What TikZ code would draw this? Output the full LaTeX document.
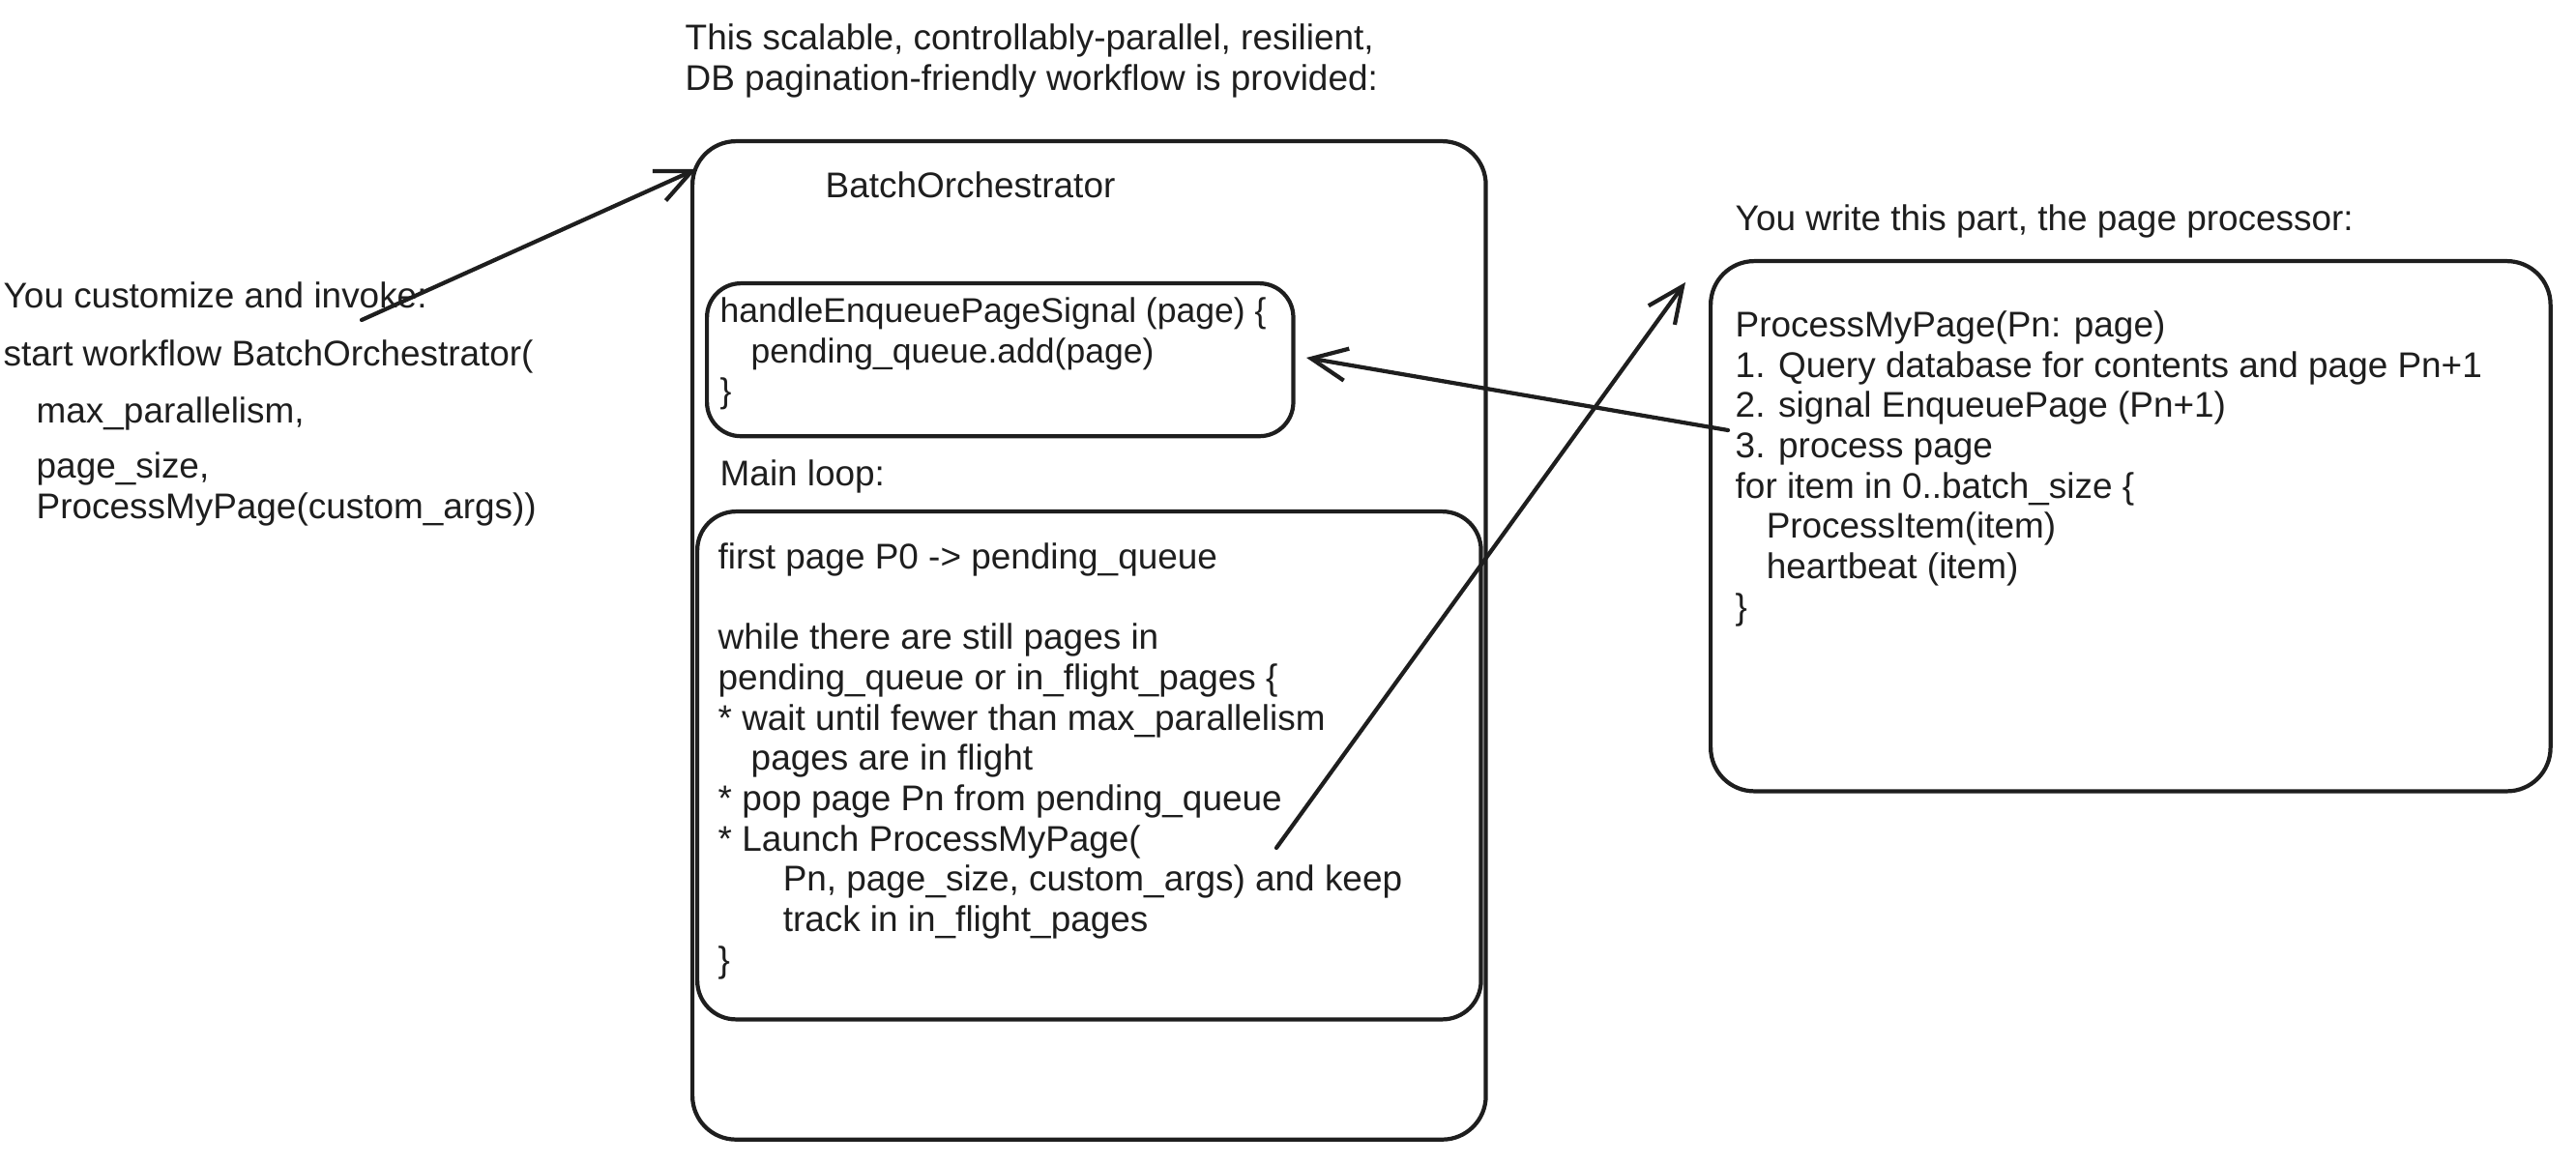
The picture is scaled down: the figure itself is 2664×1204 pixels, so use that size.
\documentclass[tikz,border=0pt]{standalone}
\usepackage{fontspec}
\setmainfont{Liberation Sans}
\usetikzlibrary{arrows.meta}
\definecolor{ink}{HTML}{1E1E1E}
\newcommand{\firstln}{\rule{0pt}{9pt}}
\begin{document}
\begin{tikzpicture}[x=0.01cm,y=-0.01cm,
  box/.style={draw=ink, line width=1.2pt, rectangle, inner sep=0pt, anchor=north west},
  txt/.style={anchor=base west, inner sep=0pt, align=left, text=ink,
    font=\fontsize{10.5}{11.84}\selectfont},
  mtxt/.style={txt, anchor=north west, yshift=9pt},
  arr/.style={draw=ink, line width=1.2pt, line cap=round,
    -{Straight Barb[length=10.5pt,width=9.5pt,line width=1.2pt]}}]
\useasboundingbox[fill=white] (0,0) rectangle (2664,1204);

% boxes
\node[box, rounded corners=0.45cm, minimum width=8.2cm, minimum height=10.32cm] (outer) at (714,144) {};
\node[box, rounded corners=0.35cm, minimum width=6.06cm, minimum height=1.58cm] (handlerbox) at (729,291) {};
\node[box, rounded corners=0.4cm, minimum width=8.1cm, minimum height=5.25cm] (loopbox) at (719,527) {};
\node[box, rounded corners=0.45cm, minimum width=8.68cm, minimum height=5.48cm] (procbox) at (1767,268) {};

% texts
\begin{scope}[yshift=-0.05cm]
\node[mtxt] (title) at (708,46) {\firstln This scalable, controllably-parallel, resilient,\\DB pagination-friendly workflow is provided:};
\node[txt] (orch) at (853,200) {BatchOrchestrator};
\node[txt] (writehdr) at (1794,234) {You write this part, the page processor:};
\node[txt] (invoke) at (3,314) {You customize and invoke:};
\node[txt] (start) at (3,374) {start workflow BatchOrchestrator(};
\node[txt] (maxp) at (37,433) {max\_parallelism,};
\node[mtxt] (psize) at (37,489) {\firstln page\_size,\\ProcessMyPage(custom\_args))};

\node[mtxt, font=\fontsize{10.1}{11.84}\selectfont] (handler) at (744,328) {\firstln handleEnqueuePageSignal (page) \{\\
\hspace*{3.2mm}pending\_queue.add(page)\\
\}};
\node[txt] (mainloop) at (744,498) {Main loop:};
\node[mtxt] (loop) at (742,583) {\firstln first page P0 -> pending\_queue\\[11.84pt]
while there are still pages in\\
pending\_queue or in\_flight\_pages \{\\
* wait until fewer than max\_parallelism\\
\hspace*{3.4mm}pages are in flight\\
* pop page Pn from pending\_queue\\
* Launch ProcessMyPage(\\
\hspace*{6.7mm}Pn, page\_size, custom\_args) and keep\\
\hspace*{6.7mm}track in in\_flight\_pages\\
\}};
\node[mtxt] (proc) at (1794,343) {\firstln ProcessMyPage(Pn: page)\\
1. Query database for contents and page Pn+1\\
2. signal EnqueuePage (Pn+1)\\
3. process page\\
for item in 0..batch\_size \{\\
\hspace*{3.2mm}ProcessItem(item)\\
\hspace*{3.2mm}heartbeat (item)\\
\}};
\end{scope}

% connectors
\coordinate (a1s) at (374,331);
\coordinate (a1e) at (720,175);
\coordinate (a2s) at (1787,445);
\coordinate (a2e) at (1351,370);
\coordinate (a3s) at (1320,877);
\coordinate (a3e) at (1743,292);
\draw[arr] (a1s) -- (a1e);
\draw[arr] (a2s) -- (a2e);
\draw[arr] (a3s) -- (a3e);
\end{tikzpicture}
\end{document}
